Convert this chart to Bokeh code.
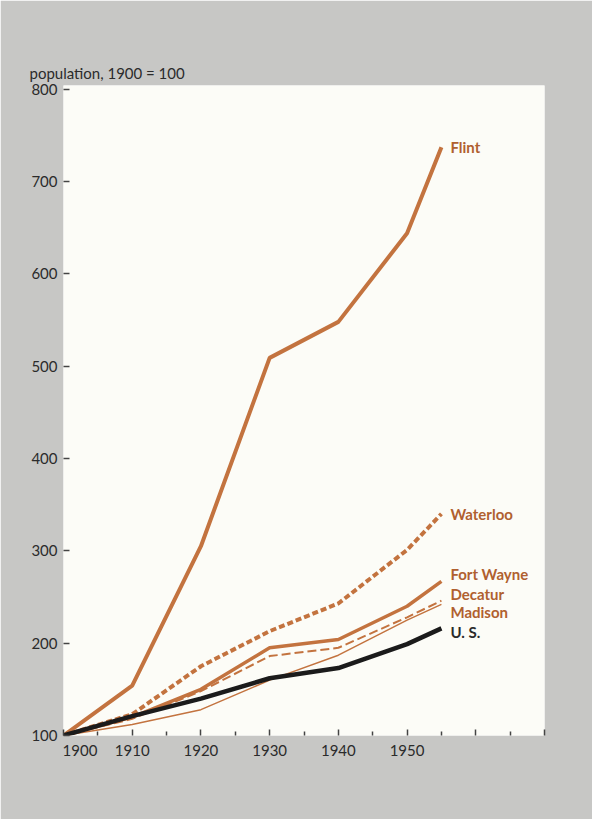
from bokeh.plotting import figure
from bokeh.models import FixedTicker, Label, Range1d, LinearAxis, Title
from bokeh.embed import file_html
from bokeh.resources import INLINE

years = [1900, 1910, 1920, 1930, 1940, 1950, 1955]
flint = [100, 154, 305, 509, 548, 644, 737]
waterloo = [100, 123, 175, 213, 243, 301, 340]
fort_wayne = [100, 120, 150, 195, 204, 240, 267]
decatur = [100, 118, 148, 186, 195, 228, 246]
madison = [100, 112, 128, 160, 187, 225, 242]
us = [100, 121, 140, 162, 173, 199, 216]

y_ticks = [100, 200, 300, 400, 500, 600, 700, 800]
x_major = [1900, 1910, 1920, 1930, 1940, 1950, 1960, 1970]
x_minor = [1905, 1915, 1925, 1935, 1945, 1955, 1965]
# label anchors (1900 label is set right of its tick in the original)
x_label_pos = [1902.4, 1910, 1920, 1930, 1940, 1950]
x_label_text = ["1900", "1910", "1920", "1930", "1940", "1950"]

FONT = "Lato"
BROWN = "#c3733f"
LABEL_BROWN = "#b0602f"
DARK = "#2b2b2b"
GRAY_BG = "#c7c7c5"

p = figure(width=592, height=819, output_backend="svg", toolbar_location=None,
           x_range=Range1d(1900, 1970), y_range=Range1d(100, 804),
           min_border_left=63, min_border_right=48, min_border_top=85,
           min_border_bottom=84, x_axis_location=None)
p.background_fill_color = "#fcfcf7"
p.border_fill_color = GRAY_BG
p.outline_line_color = None
p.grid.visible = False

# y axis
p.yaxis.ticker = FixedTicker(ticks=y_ticks)
p.yaxis.axis_line_color = None
p.yaxis.major_tick_in = 6
p.yaxis.major_tick_out = 0
p.yaxis.minor_tick_line_color = None
p.yaxis.major_tick_line_color = "#444444"
p.yaxis.major_tick_line_width = 1.5
p.yaxis.major_label_standoff = 6
p.yaxis.major_label_text_font = FONT
p.yaxis.major_label_text_font_size = "15px"
p.yaxis.major_label_text_color = DARK

# x axis: tick marks only
xt = LinearAxis(ticker=FixedTicker(ticks=x_major, minor_ticks=x_minor),
                axis_line_color=None, major_tick_in=6, major_tick_out=0,
                minor_tick_in=4, minor_tick_out=0,
                major_tick_line_color="#444444", minor_tick_line_color="#444444",
                major_tick_line_width=1.5, minor_tick_line_width=1.5,
                major_label_text_font_size="0px", major_label_standoff=0,
                major_label_overrides={t: "" for t in x_major})
p.add_layout(xt, "below")

# x axis: labels only
xl = LinearAxis(ticker=FixedTicker(ticks=x_label_pos, minor_ticks=[]),
                axis_line_color=None, major_tick_line_color=None,
                minor_tick_line_color=None, major_tick_in=0, major_tick_out=0,
                major_label_standoff=9, major_label_text_font=FONT,
                major_label_text_font_size="15px", major_label_text_color=DARK,
                major_label_overrides=dict(zip(x_label_pos, x_label_text)))
p.add_layout(xl, "below")

# lines
p.line(years, madison, line_color=BROWN, line_width=1.5)
p.line(years, decatur, line_color=BROWN, line_width=2, line_dash="9 4")
p.line(years, fort_wayne, line_color=BROWN, line_width=3.5)
p.line(years, waterloo, line_color=BROWN, line_width=4, line_dash="6 3")
p.line(years, flint, line_color=BROWN, line_width=4)
p.line(years, us, line_color="#1b1b1b", line_width=4.5)

# series labels
names = ["Flint", "Waterloo", "Fort Wayne", "Decatur", "Madison", "U. S."]
ends = [flint[-1], waterloo[-1], fort_wayne[-1], decatur[-1], madison[-1], us[-1]]
y_offs = [0, 0, 7, 7, -8, -4]
colors = [LABEL_BROWN, LABEL_BROWN, LABEL_BROWN, LABEL_BROWN, LABEL_BROWN, DARK]
for name, yv, yo, c in zip(names, ends, y_offs, colors):
    p.add_layout(Label(x=years[-1], y=yv, x_offset=9, y_offset=yo, text=name,
                       text_font=FONT, text_font_size="15px",
                       text_font_style="bold", text_color=c,
                       text_baseline="middle", text_align="left"))

# axis title
p.add_layout(Title(text="population, 1900 = 100", align="left", offset=-34,
                   text_font=FONT, text_font_size="15px",
                   text_font_style="normal", text_color=DARK, standoff=7),
             "above")

open("out.html", "w").write(file_html(p, INLINE))
